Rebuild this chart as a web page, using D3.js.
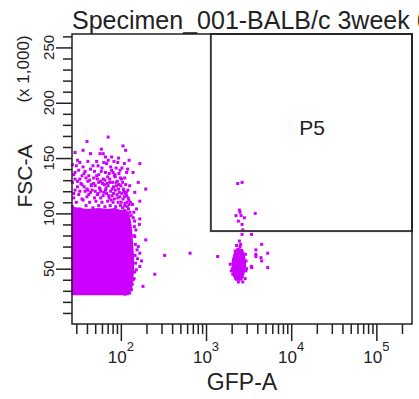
<!DOCTYPE html>
<html>
<head>
<meta charset="utf-8">
<script src="https://cdn.jsdelivr.net/npm/d3@7"></script>
<style>
  body { margin: 0; background: #fff; }
  text { font-family: "Liberation Sans", Arial, sans-serif; fill: #222; }
</style>
</head>
<body>
<div id="chart"></div>
<script>
// axis ticks
const gfpMajor = [100, 1000, 10000, 100000];
const gfpExp = ["2", "3", "4", "5"];
const gfpMinor = [30, 40, 50, 60, 70, 80, 90,
  200, 300, 400, 500, 600, 700, 800, 900,
  2000, 3000, 4000, 5000, 6000, 7000, 8000, 9000,
  20000, 30000, 40000, 50000, 60000, 70000, 80000, 90000, 200000];
const fscMajor = [50, 100, 150, 200, 250];
const fscMinor = [10, 20, 30, 40, 60, 70, 80, 90, 110, 120, 130, 140, 160, 170, 180, 190,
  210, 220, 230, 240, 260];

// gate P5 (GFP range, FSC range in thousands)
const gateGfp = [1140, 262144];
const gateFsc = [84, 262.144];

// solid dense cores [GFP-A, FSC-A (x1000)]
const coreMain = [[27,27],[122,27],[128,30],[134,36],[138,45],[140,55],[138,65],[135,75],
  [132,85],[128,93],[122,100],[112,103],[100,102],[85,104],[70,103],[55,104],[40,103],[27,105]];
const coreGfp = [[2336,68],[2673,67],[2818,60],[2896,53],[2745,45],[2602,40],[2213,40],
  [2097,47],[2042,55],[2155,63]];

// single events around the cores
const eventsMain = [
  [71,169],[40,165],[29,155],[59,158],[57,154],[62,154],[106,161],[114,157],[36,157],[44,154],
  [78,151],[92,146],[167,145],[125,148],[30,143],[33,146],[47,143],[68,145],[81,137],[85,135],
  [117,137],[139,137],[196,122],[160,128],[29,137],[38,138],[52,134],[62,131],[74,128],[102,131],
  [127,125],[146,119],[167,111],[89,125],[45,126],[33,131],[40,122],[57,122],[117,116],[153,104],
  [167,95],[165,90],[146,79],[196,76],[160,70],[167,64],[175,57],[167,52],[182,34],[133,31],
  [127,28],[106,35],[250,45],[327,62],[650,64],[1370,61],
  [28,118],[31,124],[34,127],[38,120],[42,117],[46,121],[50,125],[54,118],[58,114],[63,119],
  [67,123],[72,116],[77,112],[82,118],[86,121],[92,114],[96,119],[101,110],[106,113],[111,107],
  [118,110],[123,104],[128,101],[132,98],[29,131],[35,134],[41,129],[48,132],[55,128],[64,126],
  [70,133],[79,122],[95,126],[108,120],[113,118],[122,114],[137,108],[142,101],[145,93],[150,85],
  [148,72],[155,67],[157,59],[152,49],[143,41],[136,36],[125,32],[117,29],[112,27],
  [44,140],[52,147],[66,151],[88,141],[98,139],[59,138],[31,148],[76,142],[120,140],
  [27,106],[30,110],[33,104],[36,112],[39,107],[43,110],[47,105],[51,111],[55,107],[60,110],
  [65,106],[70,111],[75,107],[81,110],[87,106],[93,110],[99,107],[105,105],[112,109],[119,106],
  [125,108],[28,114],[32,117],[35,113],[40,115],[44,119],[49,114],[53,117],[58,120],[62,116],
  [68,118],[73,114],[79,116],[84,113],[90,117],[97,115],[103,118],[110,115],[116,119],[124,112],
  [130,110],[29,121],[33,120],[37,124],[41,121],[45,125],[50,120],[56,123],[61,127],[66,121],
  [71,125],[76,120],[82,124],[88,128],[94,122],[100,125],[107,122],[114,126],[121,121],
  [27,128],[31,129],[35,126],[39,132],[43,130],[48,127],[53,131],[58,129],[65,130],[69,127],
  [74,131],[80,128],[86,133],[91,129],[99,132],[105,128],[111,132],
  [28,135],[32,139],[37,136],[42,134],[49,138],[55,135],[60,141],[66,137],[73,136],[78,139],
  [84,134],[95,136],[103,141],[27,144],[36,142],[41,147],[54,143],[63,146],[71,148],[83,147],
  [94,150],[110,145],[140,96],[144,88],[143,80],[147,62],[149,55],[145,47],[139,40],[131,33]
];
const eventsGfp = [
  [2355,127],[2650,128],[2466,103],[2510,101],[2250,98],[2580,98],[2818,96],[3780,100],[2400,93],
  [2650,90],[2650,81],[3420,81],[2466,75],[2510,70],[4500,72],[5300,64],[3850,67],[4420,60],
  [4500,57],[3850,61],[5300,51],[3450,51],[2940,48],[1920,54],[1980,48],[2060,45],[2360,42],
  [2650,43],[2880,41],[2100,58],[2200,66],[2900,63],[2950,57],[2050,50],[2280,71],[2550,72],
  [3000,50],[2150,44],[2700,38],[2400,38],[3400,52],[3850,63],[2700,85]
];

const W = 419, H = 399;
const plotL = 72, plotT = 34, plotR = 412, plotB = 324;
const dotColor = "#cc00ff";

const svg = d3.select("#chart").append("svg")
  .attr("width", W).attr("height", H);

const x = d3.scaleLog().domain([26.7, 262144]).range([plotL, plotR]);
const y = d3.scaleLinear().domain([0, 262.144]).range([plotB, plotT]);

// title (runs off the right edge like the original)
svg.append("text")
  .attr("x", 72).attr("y", 29)
  .style("font-size", "25px")
  .text("Specimen_001-BALB/c 3week 6");

const plot = svg.append("g");

// dense cores
const line = d3.line().x(d => x(d[0])).y(d => y(d[1])).curve(d3.curveLinearClosed);
[coreMain, coreGfp].forEach(c => {
  plot.append("path")
    .attr("d", line(c))
    .attr("fill", dotColor)
    .attr("stroke", dotColor)
    .attr("stroke-width", 2)
    .attr("stroke-linejoin", "round");
});

// single events
plot.selectAll("rect.ev")
  .data(eventsMain.concat(eventsGfp))
  .enter().append("rect")
  .attr("class", "ev")
  .attr("x", d => x(d[0]) - 1.5)
  .attr("y", d => y(d[1]) - 1.5)
  .attr("width", 3)
  .attr("height", 3)
  .attr("fill", dotColor);

// gate
svg.append("rect")
  .attr("x", x(gateGfp[0]))
  .attr("y", y(gateFsc[1]))
  .attr("width", x(gateGfp[1]) - x(gateGfp[0]))
  .attr("height", y(gateFsc[0]) - y(gateFsc[1]))
  .attr("fill", "none")
  .attr("stroke", "#3a3a3a")
  .attr("stroke-width", 2);

svg.append("text")
  .attr("x", 312).attr("y", 135)
  .attr("text-anchor", "middle")
  .style("font-size", "21px")
  .text("P5");

// axes
function styleAxis(g) {
  g.select(".domain").remove();
  g.selectAll(".tick line").attr("stroke", "#222").attr("stroke-width", 1.5);
}

svg.append("g").attr("transform", `translate(0,${plotB})`)
  .call(d3.axisBottom(x).tickValues(gfpMinor).tickSize(10).tickFormat(""))
  .call(styleAxis);
svg.append("g").attr("transform", `translate(0,${plotB})`)
  .call(d3.axisBottom(x).tickValues(gfpMajor).tickSize(17).tickFormat(""))
  .call(styleAxis);

gfpMajor.forEach((v, i) => {
  const t = svg.append("text")
    .attr("x", x(v)).attr("y", 363)
    .attr("text-anchor", "middle")
    .style("font-size", "17px");
  t.append("tspan").text("10");
  t.append("tspan").attr("dy", -12).style("font-size", "13px").text(gfpExp[i]);
});

svg.append("g").attr("transform", `translate(${plotL},0)`)
  .call(d3.axisLeft(y).tickValues(fscMinor).tickSize(9).tickFormat(""))
  .call(styleAxis);
svg.append("g").attr("transform", `translate(${plotL},0)`)
  .call(d3.axisLeft(y).tickValues(fscMajor).tickSize(16).tickFormat(""))
  .call(styleAxis);

fscMajor.forEach(v => {
  svg.append("text")
    .attr("transform", `translate(54,${y(v)}) rotate(-90)`)
    .attr("text-anchor", "middle")
    .style("font-size", "15px")
    .text(v);
});

// frame
svg.append("rect")
  .attr("x", plotL).attr("y", plotT)
  .attr("width", plotR - plotL).attr("height", plotB - plotT)
  .attr("fill", "none")
  .attr("stroke", "#222")
  .attr("stroke-width", 1.5);

// axis titles
svg.append("text")
  .attr("x", 242).attr("y", 390)
  .attr("text-anchor", "middle")
  .style("font-size", "23px")
  .text("GFP-A");

svg.append("text")
  .attr("transform", "translate(32,176) rotate(-90)")
  .attr("text-anchor", "middle")
  .style("font-size", "21px")
  .text("FSC-A");

svg.append("text")
  .attr("transform", "translate(29,69) rotate(-90)")
  .attr("text-anchor", "middle")
  .style("font-size", "17px")
  .text("(x 1,000)");
</script>
</body>
</html>
